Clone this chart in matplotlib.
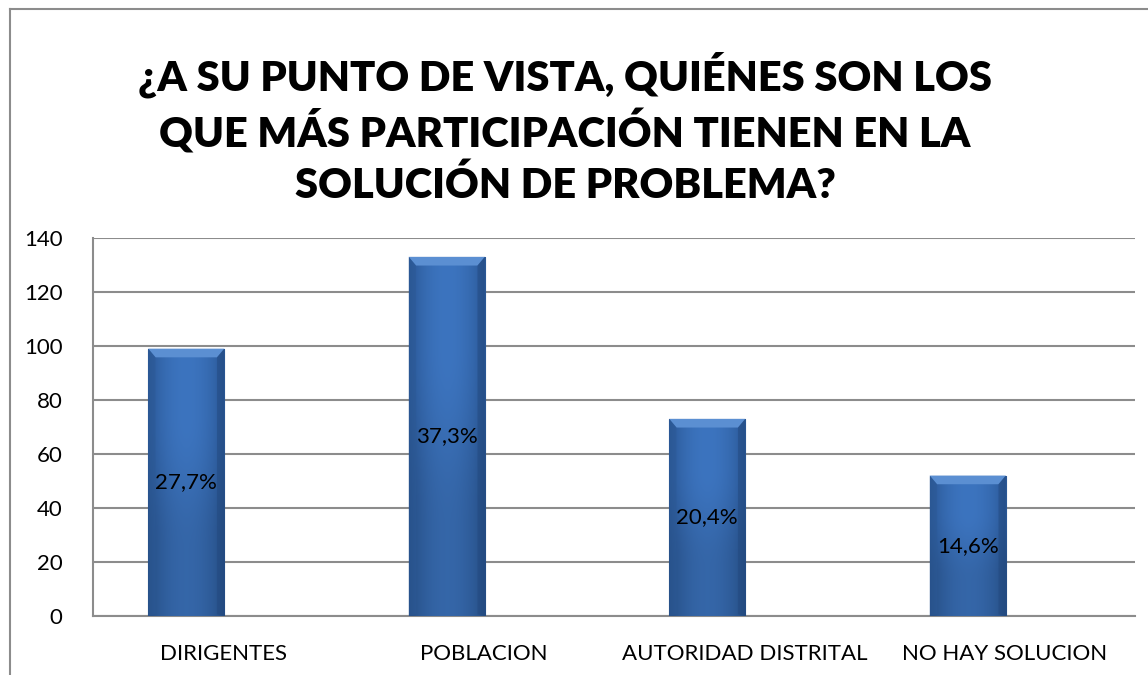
import matplotlib.pyplot as plt
import numpy as np
from matplotlib.patches import Polygon
from matplotlib.lines import Line2D

categories = ["DIRIGENTES", "POBLACION", "AUTORIDAD DISTRITAL", "NO HAY SOLUCION"]
counts = [99, 133, 73, 52]
pct_labels = ["27,7%", "37,3%", "20,4%", "14,6%"]
title = "¿A SU PUNTO DE VISTA, QUIÉNES SON LOS\nQUE MÁS PARTICIPACIÓN TIENEN EN LA\nSOLUCIÓN DE PROBLEMA?"

plt.rcParams['font.family'] = ['Lato', 'DejaVu Sans']

W, H = 1148, 675
fig = plt.figure(figsize=(W / 100, H / 100), dpi=100)
fig.patch.set_facecolor('white')

# chart frame (top and left edges visible)
fig.add_artist(Line2D([10 / W, 1.0], [1 - 9 / H, 1 - 9 / H], color='#8c8c8c', lw=1.5))
fig.add_artist(Line2D([10 / W, 10 / W], [0, 1 - 9 / H], color='#8c8c8c', lw=1.5))

fig.text(565 / W, 1 - 128 / H, title, ha='center', va='center', fontsize=30,
         fontweight='heavy', linespacing=1.32, color='black')

ax = fig.add_axes([93 / W, 59 / H, 1042 / W, 378 / H])
x = np.arange(len(categories))
bw = 0.292
off = -0.142
bars = ax.bar(x + off, counts, width=bw, color='#3467aa', edgecolor='#264f86', lw=0.8, zorder=3)

# gradient fill for each bar
grad = np.linspace(-1, 1, 64)
prof = 1 - 0.45 * grad ** 2
img = np.zeros((2, 64, 3))
c0 = np.array([0x2a, 0x57, 0x95]) / 255
c1 = np.array([0x3c, 0x74, 0xbf]) / 255
for r, fac in enumerate([0.88, 1.0]):
    img[r] = (c0[None, :] + (c1 - c0)[None, :] * ((prof - 0.55) / 0.45)[:, None]) * fac
img = np.clip(img, 0, 1)
for b in bars:
    x0, y0 = b.get_x(), b.get_y()
    w, h = b.get_width(), b.get_height()
    im = ax.imshow(img, extent=[x0, x0 + w, y0, y0 + h], aspect='auto', origin='lower', zorder=3.5)
    im.set_clip_path(b)
    # bevel on top
    dx, dy = 0.028, 3.2
    ax.add_patch(Polygon([[x0, y0 + h], [x0 + w, y0 + h], [x0 + w - dx, y0 + h - dy], [x0 + dx, y0 + h - dy]],
                         closed=True, facecolor='#5b8fd2', edgecolor='none', zorder=3.8))
    ax.add_patch(Polygon([[x0, y0 + h], [x0 + dx, y0 + h - dy], [x0 + dx, y0 + 0.6], [x0, y0]],
                         closed=True, facecolor='#2c5995', edgecolor='none', alpha=0.5, zorder=3.8))
    ax.add_patch(Polygon([[x0 + w, y0 + h], [x0 + w - dx, y0 + h - dy], [x0 + w - dx, y0 + 0.6], [x0 + w, y0]],
                         closed=True, facecolor='#23497e', edgecolor='none', alpha=0.5, zorder=3.8))

for xi, v, lab in zip(x, counts, pct_labels):
    ax.text(xi + off, v / 2, lab, ha='center', va='center', fontsize=16, color='black', zorder=5)

ax.set_xlim(-0.5, 3.5)
ax.set_ylim(0, 140)
ax.set_yticks(np.arange(0, 141, 20))
ax.set_xticks(x)
ax.set_xticklabels(categories, fontsize=16)
ax.tick_params(axis='y', labelsize=16, length=0, pad=22)
ax.tick_params(axis='x', length=0, pad=20)
ax.yaxis.grid(True, color='#8c8c8c', lw=1.5, zorder=0)
ax.set_axisbelow(True)
for s in ['top', 'right']:
    ax.spines[s].set_visible(False)
ax.spines['left'].set_color('#8c8c8c')
ax.spines['left'].set_linewidth(1.5)
ax.spines['bottom'].set_color('#8c8c8c')
ax.spines['bottom'].set_linewidth(1.5)

fig.savefig('out.png', dpi=100, facecolor='white')
